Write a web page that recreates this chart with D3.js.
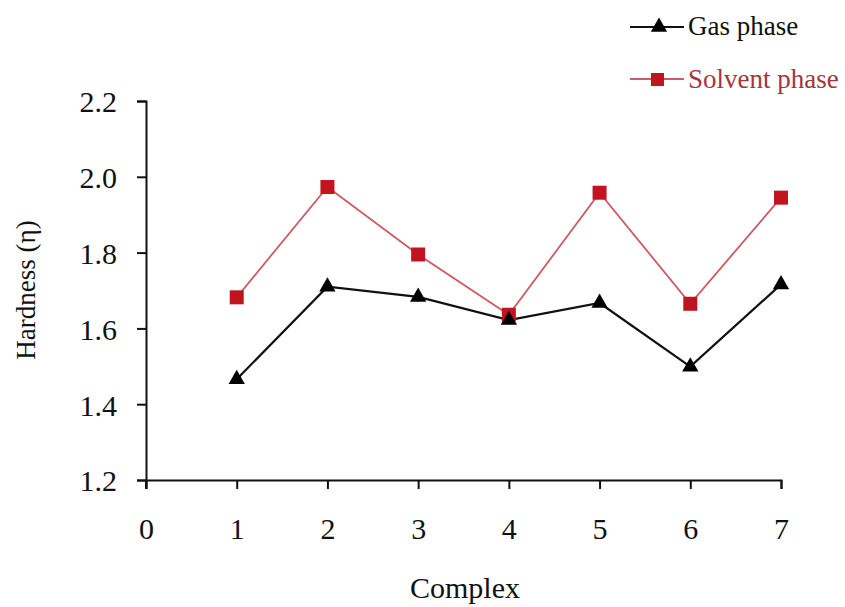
<!DOCTYPE html>
<html><head><meta charset="utf-8">
<script src="https://cdn.jsdelivr.net/npm/d3@7"></script>
<style>body{margin:0;background:#fff}svg{display:block}text{font-family:"Liberation Serif","Times New Roman",serif}</style>
</head><body><svg id="c" width="845" height="607"></svg>
<script>
const complexes = [1,2,3,4,5,6,7];
const gasPhase = [1.466,1.710,1.683,1.622,1.667,1.499,1.716];
const solventPhase = [1.682,1.973,1.795,1.636,1.958,1.665,1.945];
const xTicks = [0,1,2,3,4,5,6,7];
const yTicks = [1.2,1.4,1.6,1.8,2.0,2.2];
const seriesNames = ["Gas phase","Solvent phase"];

const svg = d3.select("#c");
const x = d3.scaleLinear().domain([0,7]).range([146,781]);
const y = d3.scaleLinear().domain([1.2,2.2]).range([480,101]);

// axes
const xa = svg.append("g").attr("transform","translate(0,480)")
  .call(d3.axisBottom(x).tickValues(xTicks).tickFormat(d3.format("d")).tickSizeOuter(0).tickSize(9).tickPadding(29));
const ya = svg.append("g").attr("transform","translate(146,0)")
  .call(d3.axisLeft(y).tickValues(yTicks).tickFormat(d3.format(".1f")).tickSizeOuter(0).tickSize(9).tickPadding(20));
[xa,ya].forEach(a=>{
  a.attr("font-size",30);
  a.select(".domain").attr("stroke","#111").attr("stroke-width",2);
  a.selectAll(".tick line").attr("stroke","#111").attr("stroke-width",2);
  a.selectAll(".tick text").attr("font-size",30).attr("fill","#111").attr("font-family","Liberation Serif");
});
ya.selectAll(".tick text").attr("dy","0.36em");
// extend y axis slightly below x axis
svg.append("line").attr("x1",146).attr("x2",146).attr("y1",480).attr("y2",489).attr("stroke","#111").attr("stroke-width",2);

// axis titles
svg.append("text").attr("x",465).attr("y",598).attr("text-anchor","middle").attr("font-size",30).attr("fill","#111").text("Complex");
svg.append("text").attr("transform","translate(35,290) rotate(-90)").attr("text-anchor","middle").attr("font-size",27).attr("fill","#111").text("Hardness (η)");

const line = d3.line().x((d,i)=>x(complexes[i])).y(d=>y(d));
const solvLineColor = "#cc5c62", solvMarker = "#c0141f";

svg.append("path").datum(solventPhase).attr("d",line).attr("fill","none").attr("stroke",solvLineColor).attr("stroke-width",1.8);
svg.append("path").datum(gasPhase).attr("d",line).attr("fill","none").attr("stroke","#111").attr("stroke-width",2.2);

const tri = d3.symbol().type(d3.symbolTriangle).size(115);
svg.selectAll(".sq").data(solventPhase).join("rect")
  .attr("x",(d,i)=>x(complexes[i])-7).attr("y",d=>y(d)-7).attr("width",14).attr("height",14)
  .attr("fill",solvMarker);
svg.selectAll(".tr").data(gasPhase).join("path")
  .attr("transform",(d,i)=>`translate(${x(complexes[i])},${y(d)})`).attr("d",tri).attr("fill","#000");

// legend
const lg = svg.append("g");
lg.append("line").attr("x1",630).attr("x2",684).attr("y1",27).attr("y2",27).attr("stroke","#111").attr("stroke-width",2);
lg.append("path").attr("transform","translate(659,27)").attr("d",tri).attr("fill","#000");
lg.append("text").attr("x",688).attr("y",35).attr("font-size",27).attr("fill","#111").text(seriesNames[0]);
lg.append("line").attr("x1",630).attr("x2",684).attr("y1",79).attr("y2",79).attr("stroke",solvLineColor).attr("stroke-width",1.8);
lg.append("rect").attr("x",651).attr("y",73).attr("width",13).attr("height",13).attr("fill",solvMarker);
lg.append("text").attr("x",688).attr("y",88).attr("font-size",27).attr("fill","#a8333a").text(seriesNames[1]);
</script></body></html>
